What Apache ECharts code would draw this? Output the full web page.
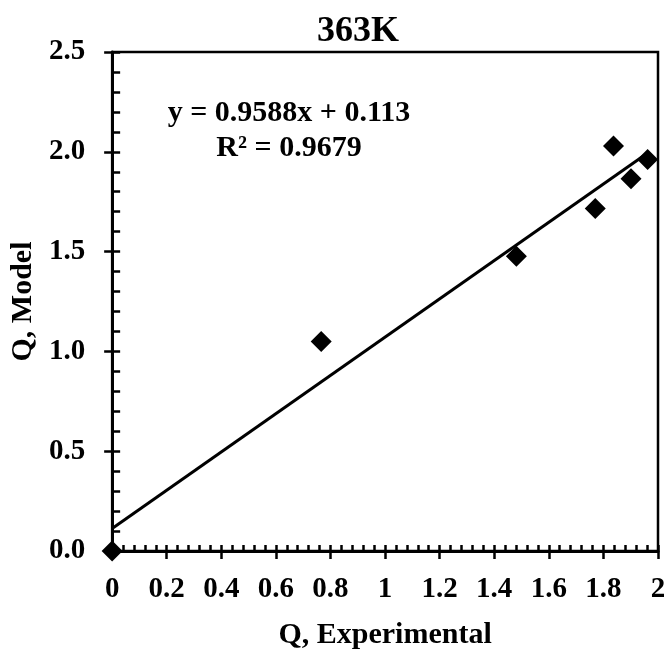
<!DOCTYPE html>
<html>
<head>
<meta charset="utf-8">
<script src="https://cdn.jsdelivr.net/npm/echarts@6/dist/echarts.min.js"></script>
<style>
  html, body { margin: 0; padding: 0; background: #fff; }
  #chart { width: 669px; height: 659px; }
</style>
</head>
<body>
<div id="chart"></div>
<script>
// Measured vs. model uptake at 363 K
const qExperimental = [0, 0.766, 1.481, 1.770, 1.837, 1.901, 1.962];
const qModel = [0, 1.05, 1.477, 1.716, 2.029, 1.865, 1.962];

// Linear fit reported on the chart
const fitSlope = 0.9588;
const fitIntercept = 0.113;
const fitR2 = 0.9679;

const titleText = '363K';
const xName = 'Q, Experimental';
const yName = 'Q, Model';

const xMin = 0, xMax = 2, xStep = 0.2, xMinorStep = 0.04;
const yMin = 0, yMax = 2.5, yStep = 0.5, yMinorStep = 0.1;

const points = qExperimental.map((x, i) => [x, qModel[i]]);
const fitX0 = Math.min(...qExperimental);
const fitX1 = Math.max(...qExperimental);
const fitLine = [
  [fitX0, fitSlope * fitX0 + fitIntercept],
  [fitX1, fitSlope * fitX1 + fitIntercept]
];

const FONT = '"Liberation Serif", "Times New Roman", serif';
const labelStyle = { fontFamily: FONT, fontWeight: 'bold', fontSize: 29, color: '#000' };
const nameStyle = { fontFamily: FONT, fontWeight: 'bold', fontSize: 30, color: '#000' };

const chart = echarts.init(document.getElementById('chart'), null, { renderer: 'canvas' });

chart.setOption({
  backgroundColor: '#fff',
  animation: false,
  title: {
    text: titleText,
    left: 353, top: 9, textAlign: 'center',
    textStyle: { fontFamily: FONT, fontWeight: 'bold', fontSize: 36, color: '#000', lineHeight: 36 }
  },
  grid: {
    left: 112, top: 52, right: 11, bottom: 108,
    show: true, borderColor: '#000', borderWidth: 2.5, backgroundColor: 'transparent'
  },
  xAxis: [
    {
      type: 'value', min: xMin, max: xMax, interval: xStep, position: 'bottom',
      name: xName, nameLocation: 'middle', nameGap: 69,
      nameTextStyle: nameStyle,
      axisLine: { show: true, onZero: false, lineStyle: { color: '#000', width: 3 } },
      axisTick: { show: true, inside: false, length: 8, lineStyle: { color: '#000', width: 2.5 } },
      axisLabel: {
        ...labelStyle, margin: 24,
        formatter: v => String(parseFloat(v.toFixed(1)))
      },
      splitLine: { show: false }
    },
    {
      type: 'value', min: xMin, max: xMax, interval: xMinorStep, position: 'bottom',
      axisLine: { show: false, onZero: false },
      axisTick: { show: true, inside: true, length: 6, lineStyle: { color: '#000', width: 2.5 } },
      axisLabel: { show: false },
      splitLine: { show: false }
    }
  ],
  yAxis: [
    {
      type: 'value', min: yMin, max: yMax, interval: yStep, position: 'left',
      name: yName, nameLocation: 'middle', nameGap: 70, nameRotate: 90,
      nameTextStyle: nameStyle,
      axisLine: { show: true, onZero: false, lineStyle: { color: '#000', width: 3 } },
      axisTick: { show: true, inside: false, length: 8, lineStyle: { color: '#000', width: 2.5 } },
      axisLabel: { ...labelStyle, margin: 27, formatter: v => v.toFixed(1) },
      splitLine: { show: false }
    },
    {
      type: 'value', min: yMin, max: yMax, interval: yMinorStep, position: 'left',
      axisLine: { show: false, onZero: false },
      axisTick: { show: true, inside: true, length: 8, lineStyle: { color: '#000', width: 2.5 } },
      axisLabel: { show: false },
      splitLine: { show: false }
    }
  ],
  series: [
    {
      name: 'fit', type: 'line', data: fitLine,
      showSymbol: false, symbol: 'none',
      lineStyle: { color: '#000', width: 3 },
      silent: true, z: 2
    },
    {
      name: 'data', type: 'scatter', data: points,
      symbol: 'diamond', symbolSize: 21,
      itemStyle: { color: '#000', opacity: 1 },
      clip: false, z: 3
    }
  ],
  graphic: [
    {
      type: 'text', x: 289, y: 113, z: 10,
      style: {
        text: 'y = ' + fitSlope + 'x + ' + fitIntercept,
        font: 'bold 30px ' + FONT, fill: '#000',
        align: 'center', verticalAlign: 'middle'
      }
    },
    {
      type: 'text', x: 289, y: 148, z: 10,
      style: {
        text: 'R\u00B2 = ' + fitR2,
        font: 'bold 30px ' + FONT, fill: '#000',
        align: 'center', verticalAlign: 'middle'
      }
    }
  ]
});
</script>
</body>
</html>
